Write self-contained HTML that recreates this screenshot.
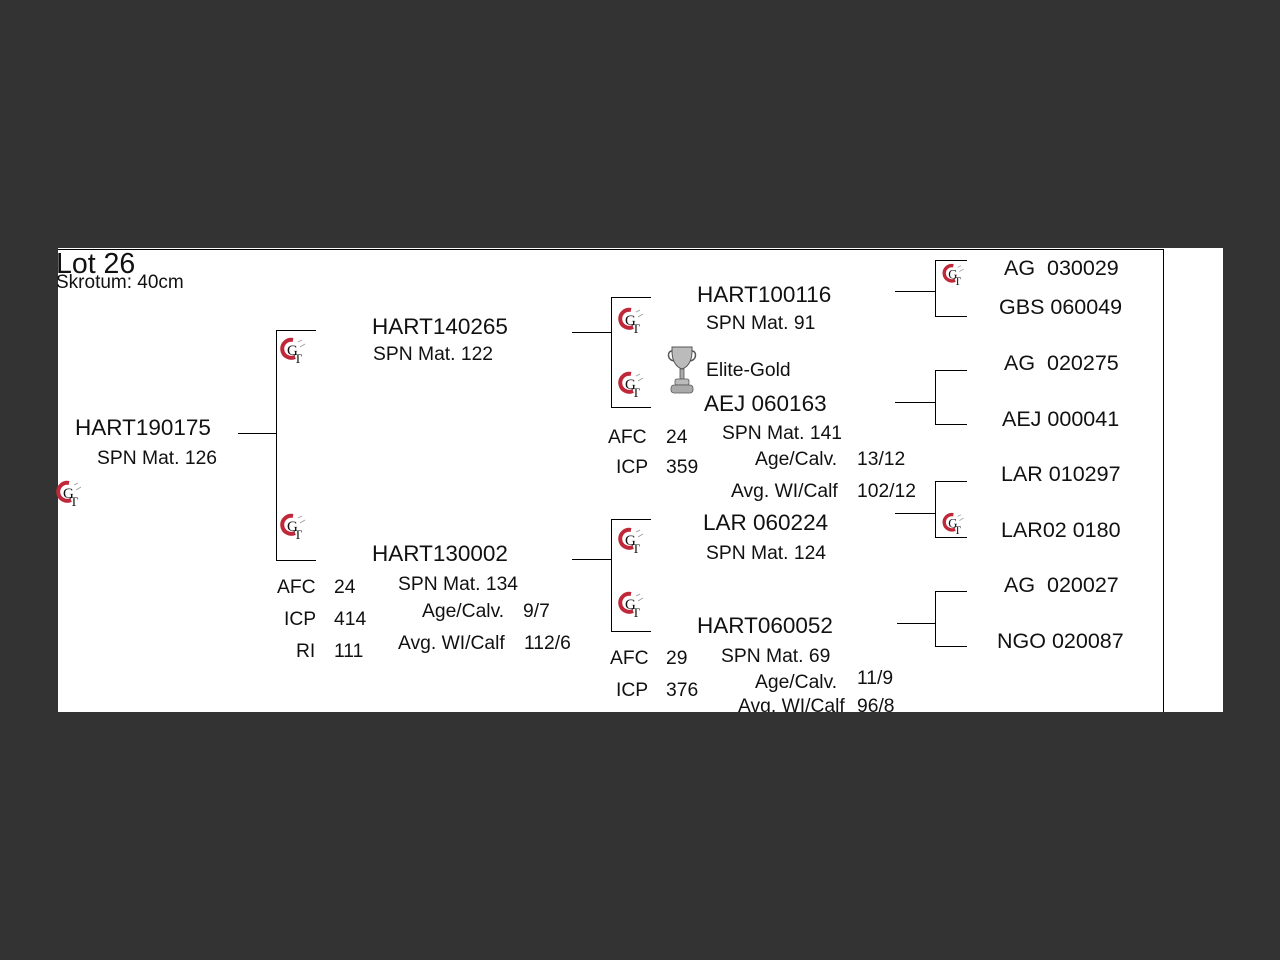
<!DOCTYPE html>
<html><head><meta charset="utf-8"><style>
html,body{margin:0;padding:0;background:#333;width:1280px;height:960px;overflow:hidden}
#p{position:absolute;left:58px;top:248px;width:1165px;height:464px;background:#fff;overflow:hidden}
.t{position:absolute;font-family:"Liberation Sans",sans-serif;line-height:1;white-space:pre;color:#111}
.b{font-size:22.5px;margin-top:-1px}.s{font-size:19.3px;margin-top:-1px}
.l{position:absolute;background:#000}
</style></head><body>
<div id="p">
<div class="l" style="left:0;top:1px;width:1106px;height:1px"></div>
<div class="l" style="left:1105px;top:1px;width:1px;height:464px"></div>
</div>
<div id="c" style="position:absolute;left:0;top:0;width:1280px;height:712px;overflow:hidden">
<div class="t" style="left:56px;top:250px;font-size:28.5px">Lot 26</div>
<div class="t" style="left:56px;top:273px;font-size:19px">Skrotum: 40cm</div>

<div class="t b" style="left:75px;top:418px">HART190175</div>
<div class="t s" style="left:97px;top:450px">SPN Mat. 126</div>

<div class="t b" style="left:372px;top:317px">HART140265</div>
<div class="t s" style="left:373px;top:346px">SPN Mat. 122</div>

<div class="t b" style="left:372px;top:544px">HART130002</div>
<div class="t s" style="left:277px;top:579px">AFC</div><div class="t s" style="left:334px;top:579px">24</div>
<div class="t s" style="left:284px;top:611px">ICP</div><div class="t s" style="left:334px;top:611px">414</div>
<div class="t s" style="left:296px;top:643px">RI</div><div class="t s" style="left:334px;top:643px">111</div>
<div class="t s" style="left:398px;top:576px">SPN Mat. 134</div>
<div class="t s" style="left:422px;top:603px">Age/Calv.</div><div class="t s" style="left:523px;top:603px">9/7</div>
<div class="t s" style="left:398px;top:635px">Avg. WI/Calf</div><div class="t s" style="left:524px;top:635px">112/6</div>

<div class="t b" style="left:697px;top:285px">HART100116</div>
<div class="t s" style="left:706px;top:315px">SPN Mat. 91</div>
<div class="t s" style="left:706px;top:362px">Elite-Gold</div>
<div class="t b" style="left:704px;top:394px">AEJ 060163</div>
<div class="t s" style="left:608px;top:429px">AFC</div><div class="t s" style="left:666px;top:429px">24</div>
<div class="t s" style="left:616px;top:459px">ICP</div><div class="t s" style="left:666px;top:459px">359</div>
<div class="t s" style="left:722px;top:425px">SPN Mat. 141</div>
<div class="t s" style="left:755px;top:451px">Age/Calv.</div><div class="t s" style="left:857px;top:451px">13/12</div>
<div class="t s" style="left:731px;top:483px">Avg. WI/Calf</div><div class="t s" style="left:857px;top:483px">102/12</div>

<div class="t b" style="left:703px;top:513px">LAR 060224</div>
<div class="t s" style="left:706px;top:545px">SPN Mat. 124</div>
<div class="t b" style="left:697px;top:616px">HART060052</div>
<div class="t s" style="left:610px;top:650px">AFC</div><div class="t s" style="left:666px;top:650px">29</div>
<div class="t s" style="left:721px;top:648px">SPN Mat. 69</div>
<div class="t s" style="left:616px;top:682px">ICP</div><div class="t s" style="left:666px;top:682px">376</div>
<div class="t s" style="left:755px;top:674px">Age/Calv.</div><div class="t s" style="left:857px;top:670px">11/9</div>
<div class="t s" style="left:738px;top:698px">Avg. WI/Calf</div><div class="t s" style="left:857px;top:698px">96/8</div>

<div class="t b" style="left:1004px;top:259px;font-size:21.5px">AG  030029</div>
<div class="t b" style="left:999px;top:298px;font-size:21.5px">GBS 060049</div>
<div class="t b" style="left:1004px;top:354px;font-size:21.5px">AG  020275</div>
<div class="t b" style="left:1002px;top:410px;font-size:21.5px">AEJ 000041</div>
<div class="t b" style="left:1001px;top:465px;font-size:21.5px">LAR 010297</div>
<div class="t b" style="left:1001px;top:521px;font-size:21.5px">LAR02 0180</div>
<div class="t b" style="left:1004px;top:576px;font-size:21.5px">AG  020027</div>
<div class="t b" style="left:997px;top:632px;font-size:21.5px">NGO 020087</div>

<div class="l" style="left:238px;top:433px;width:38px;height:1px"></div>
<div class="l" style="left:276px;top:330px;width:1px;height:231px"></div>
<div class="l" style="left:276px;top:330px;width:40px;height:1px"></div>
<div class="l" style="left:276px;top:560px;width:40px;height:1px"></div>

<div class="l" style="left:572px;top:332px;width:39px;height:1px"></div>
<div class="l" style="left:611px;top:297px;width:1px;height:111px"></div>
<div class="l" style="left:611px;top:297px;width:40px;height:1px"></div>
<div class="l" style="left:611px;top:407px;width:40px;height:1px"></div>

<div class="l" style="left:572px;top:559px;width:39px;height:1px"></div>
<div class="l" style="left:611px;top:519px;width:1px;height:113px"></div>
<div class="l" style="left:611px;top:519px;width:40px;height:1px"></div>
<div class="l" style="left:611px;top:631px;width:40px;height:1px"></div>

<div class="l" style="left:895px;top:291px;width:40px;height:1px"></div>
<div class="l" style="left:935px;top:260px;width:1px;height:57px"></div>
<div class="l" style="left:935px;top:260px;width:32px;height:1px"></div>
<div class="l" style="left:935px;top:316px;width:32px;height:1px"></div>

<div class="l" style="left:895px;top:402px;width:40px;height:1px"></div>
<div class="l" style="left:935px;top:370px;width:1px;height:55px"></div>
<div class="l" style="left:935px;top:370px;width:32px;height:1px"></div>
<div class="l" style="left:935px;top:424px;width:32px;height:1px"></div>

<div class="l" style="left:895px;top:513px;width:40px;height:1px"></div>
<div class="l" style="left:935px;top:481px;width:1px;height:57px"></div>
<div class="l" style="left:935px;top:481px;width:32px;height:1px"></div>
<div class="l" style="left:935px;top:537px;width:32px;height:1px"></div>

<div class="l" style="left:897px;top:623px;width:38px;height:1px"></div>
<div class="l" style="left:935px;top:591px;width:1px;height:56px"></div>
<div class="l" style="left:935px;top:591px;width:32px;height:1px"></div>
<div class="l" style="left:935px;top:646px;width:32px;height:1px"></div>

<svg style="position:absolute;left:666px;top:345px" width="32" height="50" viewBox="0 0 32 50">
<path d="M6 2h20v4c0 10-4 16-10 18c-6-2-10-8-10-18z" fill="#bbb" stroke="#555" stroke-width="1"/>
<path d="M6 6c-5 0-5 9 2 10M26 6c5 0 5 9-2 10" fill="none" stroke="#555" stroke-width="1.5"/>
<rect x="14" y="24" width="4" height="10" fill="#aaa" stroke="#555" stroke-width=".8"/>
<rect x="9" y="34" width="14" height="6" rx="2" fill="#bbb" stroke="#555" stroke-width=".8"/>
<rect x="5" y="40" width="22" height="8" rx="3" fill="#aaa" stroke="#555" stroke-width=".8"/>
</svg>
</div>

<svg style="position:absolute;left:0;top:0" width="1280" height="712">
<defs><g id="lg">
<path d="M11 2a9 9 0 1 0 2 17" fill="none" stroke="#c0283a" stroke-width="4"/>
<path d="M16 4l4-2M18 9l5-3" stroke="#999" stroke-width=".8"/>
</g></defs>
<g transform="translate(282,338)"><use href="#lg"/><text x="5" y="17" font-family="Liberation Serif,serif" font-size="15" fill="#111">G</text><text x="12" y="25" font-family="Liberation Serif,serif" font-size="13" fill="#111">T</text></g>
<g transform="translate(282,514)"><use href="#lg"/><text x="5" y="17" font-family="Liberation Serif,serif" font-size="15" fill="#111">G</text><text x="12" y="25" font-family="Liberation Serif,serif" font-size="13" fill="#111">T</text></g>
<g transform="translate(620,308)"><use href="#lg"/><text x="5" y="17" font-family="Liberation Serif,serif" font-size="15" fill="#111">G</text><text x="12" y="25" font-family="Liberation Serif,serif" font-size="13" fill="#111">T</text></g>
<g transform="translate(620,372)"><use href="#lg"/><text x="5" y="17" font-family="Liberation Serif,serif" font-size="15" fill="#111">G</text><text x="12" y="25" font-family="Liberation Serif,serif" font-size="13" fill="#111">T</text></g>
<g transform="translate(620,528)"><use href="#lg"/><text x="5" y="17" font-family="Liberation Serif,serif" font-size="15" fill="#111">G</text><text x="12" y="25" font-family="Liberation Serif,serif" font-size="13" fill="#111">T</text></g>
<g transform="translate(620,592)"><use href="#lg"/><text x="5" y="17" font-family="Liberation Serif,serif" font-size="15" fill="#111">G</text><text x="12" y="25" font-family="Liberation Serif,serif" font-size="13" fill="#111">T</text></g>
<g transform="translate(944,264) scale(.85)"><use href="#lg"/><text x="5" y="17" font-family="Liberation Serif,serif" font-size="15" fill="#111">G</text><text x="12" y="25" font-family="Liberation Serif,serif" font-size="13" fill="#111">T</text></g>
<g transform="translate(944,513) scale(.85)"><use href="#lg"/><text x="5" y="17" font-family="Liberation Serif,serif" font-size="15" fill="#111">G</text><text x="12" y="25" font-family="Liberation Serif,serif" font-size="13" fill="#111">T</text></g>
<g transform="translate(58,481)"><use href="#lg"/><text x="5" y="17" font-family="Liberation Serif,serif" font-size="15" fill="#111">G</text><text x="12" y="25" font-family="Liberation Serif,serif" font-size="13" fill="#111">T</text></g>
</svg>
</body></html>
